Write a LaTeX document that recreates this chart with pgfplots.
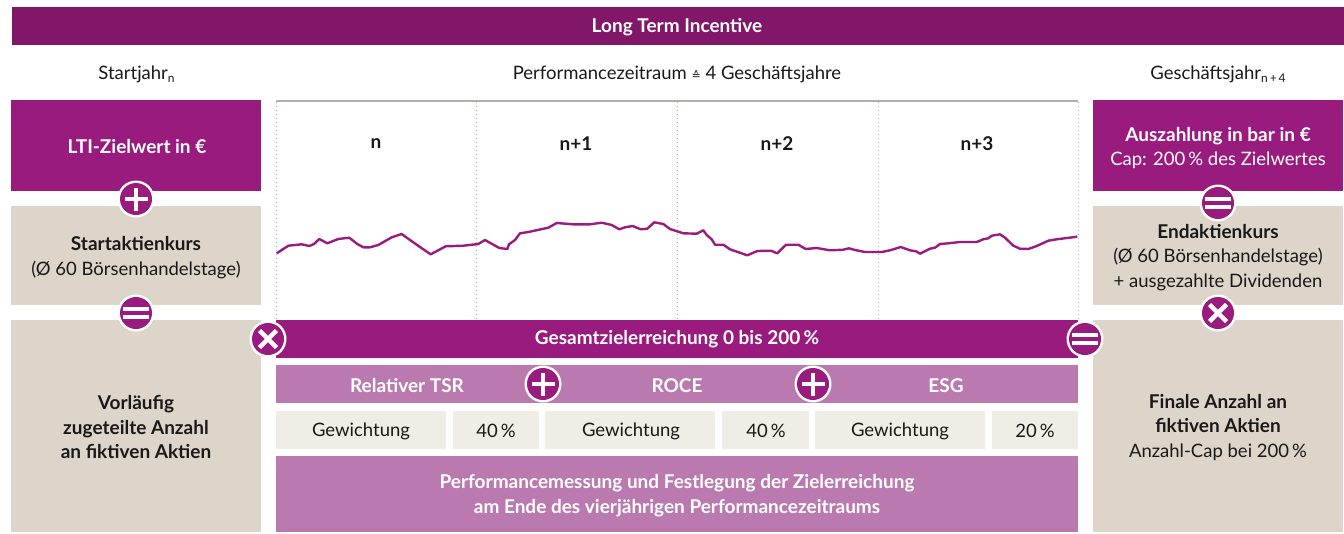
\documentclass[border=0pt]{standalone}
\usepackage{pgfplots}
\usepackage{fontspec}
\pgfplotsset{compat=1.18}
\setmainfont{Lato}
\newfontfamily\sym{DejaVu Sans}
\definecolor{top}{HTML}{82176A}
\definecolor{prim}{HTML}{991B7E}
\definecolor{tint}{HTML}{BA7AB0}
\definecolor{sand}{HTML}{DDD5C9}
\definecolor{pale}{HTML}{F0EDE7}
\definecolor{rule}{HTML}{B5AFA5}
\newcommand{\bx}[5]{\fill[#5] (axis cs:#1,#2) rectangle (axis cs:#3,#4);}
\newcommand{\opbase}[2]{\fill[white] (axis cs:#1,#2) circle[radius=18.5pt];\fill[prim] (axis cs:#1,#2) circle[radius=16pt];}
\newcommand{\opplus}[2]{\opbase{#1}{#2}\begin{scope}[shift={(axis cs:#1,#2)}]\fill[white] (-11.5pt,-2pt) rectangle (11.5pt,2pt);\fill[white] (-2pt,-11.5pt) rectangle (2pt,11.5pt);\end{scope}}
\newcommand{\opeq}[2]{\opbase{#1}{#2}\begin{scope}[shift={(axis cs:#1,#2)}]\fill[white] (-13pt,1.7pt) rectangle (13pt,5.7pt);\fill[white] (-13pt,-5.7pt) rectangle (13pt,-1.7pt);\end{scope}}
\newcommand{\optimes}[2]{\opbase{#1}{#2}\begin{scope}[shift={(axis cs:#1,#2)}]\draw[white,line width=4.5pt] (-8.5pt,-8.5pt) -- (8.5pt,8.5pt);\draw[white,line width=4.5pt] (-8.5pt,8.5pt) -- (8.5pt,-8.5pt);\end{scope}}
\newcommand{\sub}[1]{\raisebox{-3pt}{\fontsize{12}{12}\selectfont #1}}
\newcommand{\B}{\fontsize{19}{24.5}\selectfont\bfseries}
\tikzset{t/.style={align=center,font=\fontsize{18.5}{24.5}\selectfont,text=#1,inner sep=0pt},t/.default=black!90}
\begin{document}
\begin{tikzpicture}
\begin{axis}[
    hide axis,
    scale only axis,
    width=1344pt,
    height=533pt,
    xmin=0, xmax=1344,
    ymin=0, ymax=533,
    y dir=reverse,
    clip=false,
]
% boxes
\bx{12}{7}{1344}{45}{top}
\bx{11}{100}{261}{191}{prim}
\bx{11}{206}{261}{305}{sand}
\bx{11}{320}{261}{532}{sand}
\bx{1093}{100}{1343}{191}{prim}
\bx{1093}{206}{1343}{305}{sand}
\bx{1093}{320}{1343}{532}{sand}
\bx{276}{320}{1078}{358}{prim}
\bx{276}{365}{1078}{403}{tint}
\bx{276}{411}{446}{449}{pale}
\bx{453}{411}{539}{449}{pale}
\bx{545}{411}{715}{449}{pale}
\bx{722}{411}{809}{449}{pale}
\bx{815}{411}{985}{449}{pale}
\bx{992}{411}{1078}{449}{pale}
\bx{276}{456}{1078}{532}{tint}
% chart frame
\draw[rule,line width=1.5pt] (axis cs:276,101) -- (axis cs:1078,101);
\draw[rule,line width=1pt,dash pattern=on 1pt off 3pt] (axis cs:276,102) -- (axis cs:276,320);
\draw[rule,line width=1pt,dash pattern=on 1pt off 3pt] (axis cs:476,102) -- (axis cs:476,320);
\draw[rule,line width=1pt,dash pattern=on 1pt off 3pt] (axis cs:677,102) -- (axis cs:677,320);
\draw[rule,line width=1pt,dash pattern=on 1pt off 3pt] (axis cs:878,102) -- (axis cs:878,320);
\draw[rule,line width=1pt,dash pattern=on 1pt off 3pt] (axis cs:1078,102) -- (axis cs:1078,320);
% share price line
\addplot[prim,line width=2.4pt,line join=round,no markers] coordinates {
(276.7,253.3) (288.3,245.7) (301.7,244.3) (309.3,246) (314,244) (319.3,239) (327.3,243.3)
(338.3,239) (349.3,237.7) (357.3,244) (363.3,247.3) (370,247.3) (378.3,245) (391.7,237.3)
(401.7,234) (410,240) (423.3,249.3) (430.7,254.3) (445.7,246.3) (463.3,245.7) (478.3,244)
(485,240) (499.3,248) (507.3,249) (509,244.3) (515,240) (520,233.3) (528.3,232) (548.3,227.7)
(556.7,223) (573.3,224.3) (590,224.3) (601.7,222.7) (611.7,225) (619.3,229.3) (625,227.3)
(632.7,226) (640.7,229.3) (647.3,228.7) (654.3,222.3) (663.3,224) (670,229) (683.3,233.3)
(696.7,233.7) (703.3,230.3) (706.7,235) (711.7,239.3) (715,244.7) (723.3,244.7) (730,249.3)
(747.3,255.3) (757.3,251) (771,250.7) (777.3,253.3) (786,244.7) (798.3,244.7) (805.7,249)
(816.7,248) (830,250.3) (843.3,249.7) (849,248.3) (855,250) (865,252) (881.7,252) (890,250.3)
(900.7,247) (910,250.3) (916,251.3) (920,253.7) (930,248.7) (935,247.7) (940,244) (948.3,243.3)
(960,242) (976.7,242) (983.3,239.3) (988.3,238.3) (991.7,235.7) (1000,234.3) (1005,237.7)
(1013.3,245.7) (1020,248.7) (1028.3,249) (1036.7,246) (1048.3,240.7) (1056.7,239.3) (1077.3,236.7)
};
% text
\node[t=white] at (axis cs:677,27.5) {\B Long Term Incentive};
\node[t] at (axis cs:136.5,74) {Startjahr\sub{n}};
\node[t] at (axis cs:677,74) {Performancezeitraum {\sym\fontsize{11}{11}\selectfont ≙} 4 Geschäftsjahre};
\node[t] at (axis cs:1218,74) {Geschäftsjahr\sub{n\,+\,4}};
\node[t=white] at (axis cs:137,147) {\B LTI-Zielwert in €};
\node[t] at (axis cs:136,257.5) {\B Startaktienkurs\\(Ø 60 Börsenhandelstage)};
\node[t] at (axis cs:136,427) {\B Vorläufig\\\B zugeteilte Anzahl\\\B an fiktiven Aktien};
\node[t=white] at (axis cs:1218,148) {\B Auszahlung in bar in €\\Cap: 200\,\% des Zielwertes};
\node[t] at (axis cs:1218,257.5) {\B Endaktienkurs\\(Ø 60 Börsenhandelstage)\\+ ausgezahlte Dividenden};
\node[t] at (axis cs:1218,427.5) {\B Finale Anzahl an\\\B fiktiven Aktien\\Anzahl-Cap bei 200\,\%};
\node[t] at (axis cs:376,144) {\B n};
\node[t] at (axis cs:576,144) {\B n+1};
\node[t] at (axis cs:777,144) {\B n+2};
\node[t] at (axis cs:977,144) {\B n+3};
\node[t=white] at (axis cs:677,339.5) {\B Gesamtzielerreichung 0 bis 200\,\%};
\node[t=white] at (axis cs:407,385.5) {\B Relativer TSR};
\node[t=white] at (axis cs:677,385.5) {\B ROCE};
\node[t=white] at (axis cs:946,385.5) {\B ESG};
\node[t] at (axis cs:361,431) {Gewichtung};
\node[t] at (axis cs:496,431) {40\,\%};
\node[t] at (axis cs:631,431) {Gewichtung};
\node[t] at (axis cs:766,431) {40\,\%};
\node[t] at (axis cs:900,431) {Gewichtung};
\node[t] at (axis cs:1035,431) {20\,\%};
\node[t=white] at (axis cs:677,495.5) {\B Performancemessung und Festlegung der Zielerreichung\\\B am Ende des vierjährigen Performancezeitraums};
% operators
\opplus{136}{199}
\opeq{136}{313}
\optimes{268}{339}
\opeq{1085}{339}
\opplus{543}{384}
\opplus{813}{384}
\opeq{1218}{203}
\optimes{1218}{313}
\end{axis}
\path[use as bounding box] (0,0) rectangle (1344pt,533pt);
\end{tikzpicture}
\end{document}
